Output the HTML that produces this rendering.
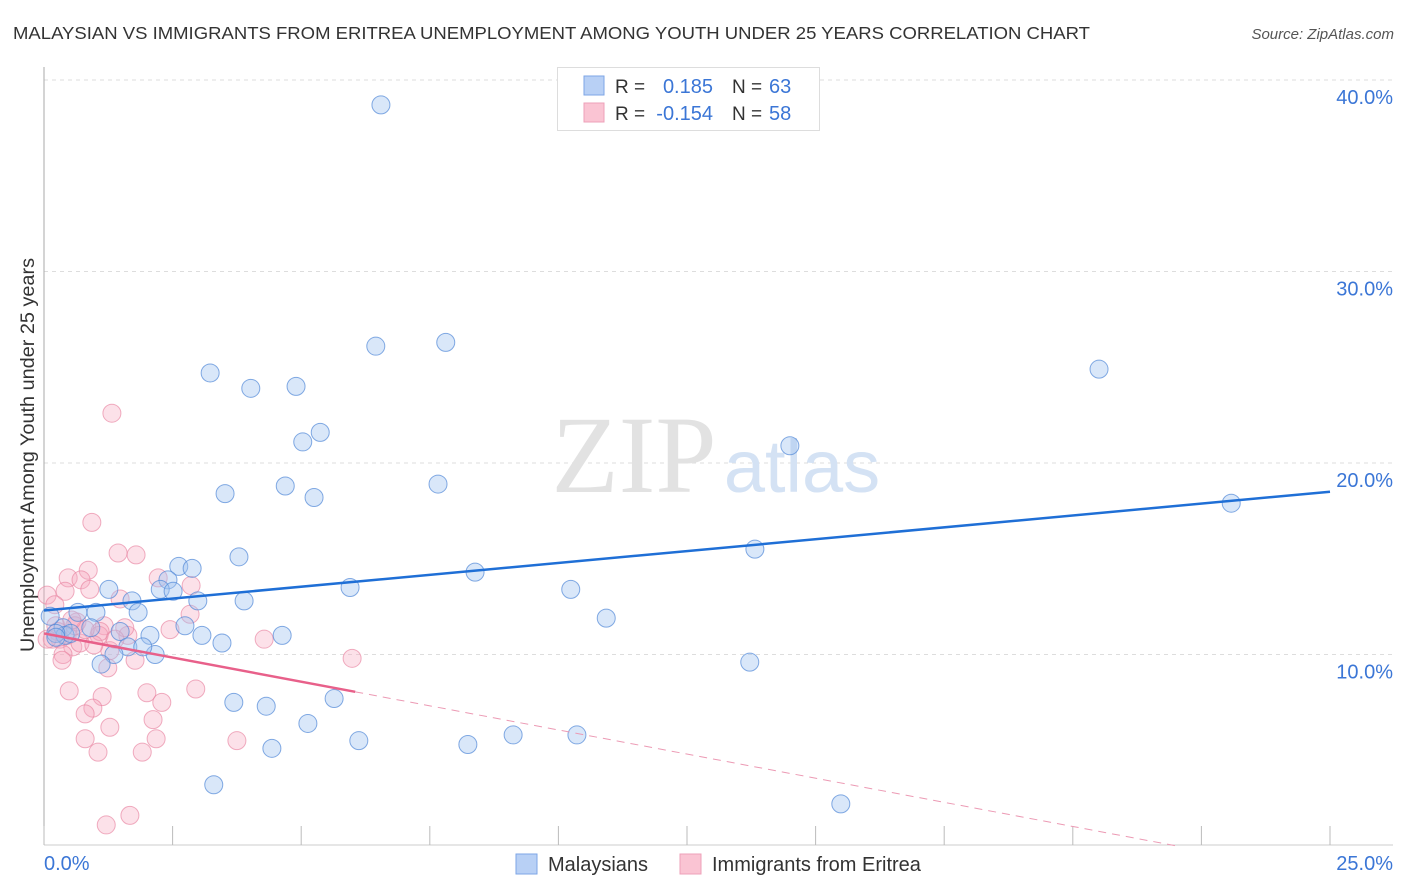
<!DOCTYPE html>
<html><head><meta charset="utf-8"><style>
body{margin:0;background:#fff;font-family:"Liberation Sans",sans-serif;}
svg{display:block}
</style></head><body>
<svg id="chart" width="1406" height="892" xmlns="http://www.w3.org/2000/svg">
<text x="13" y="39" font-size="17.5" fill="#333" textLength="1077" lengthAdjust="spacingAndGlyphs">MALAYSIAN VS IMMIGRANTS FROM ERITREA UNEMPLOYMENT AMONG YOUTH UNDER 25 YEARS CORRELATION CHART</text>
<text x="1394" y="39" font-size="15" fill="#555" font-style="italic" text-anchor="end">Source: ZipAtlas.com</text>
<g id="grid"></g>
<g>
<text x="634" y="492" font-size="110" font-family="Liberation Serif,serif" fill="#e2e2e2" text-anchor="middle">ZIP</text>
<text x="802" y="492" font-size="74" fill="#d4e2f4" text-anchor="middle">atlas</text>
</g>
<line x1="44" y1="67" x2="44" y2="845" stroke="#aaa"/>
<line x1="44" y1="845" x2="1393" y2="845" stroke="#ccc"/>
<g id="ticks"></g>
<g id="pinkpts"></g>
<g id="bluepts"></g>
<g id="lines"></g>
<text transform="translate(34,455) rotate(-90)" font-size="19" fill="#333" text-anchor="middle" textLength="394" lengthAdjust="spacingAndGlyphs">Unemployment Among Youth under 25 years</text>
<text x="44" y="870" font-size="20" fill="#3b76d6">0.0%</text>
<text x="1393" y="870" font-size="20" fill="#3b76d6" text-anchor="end">25.0%</text>
<g>
<rect x="557.5" y="67.5" width="262" height="63" fill="#fff" stroke="#ddd"/>
<rect x="584" y="76" width="20" height="19" fill="#b8d0f5" stroke="#7ea6e6"/>
<rect x="584" y="103" width="20" height="19" fill="#fac4d3" stroke="#eea0b8"/>
<text x="615" y="93" font-size="19" fill="#333">R =</text>
<text x="713" y="93" font-size="20" fill="#3b76d6" text-anchor="end">0.185</text>
<text x="732" y="93" font-size="19" fill="#333">N =</text>
<text x="769" y="93" font-size="20" fill="#3b76d6">63</text>
<text x="615" y="120" font-size="19" fill="#333">R =</text>
<text x="713" y="120" font-size="20" fill="#3b76d6" text-anchor="end">-0.154</text>
<text x="732" y="120" font-size="19" fill="#333">N =</text>
<text x="769" y="120" font-size="20" fill="#3b76d6">58</text>
</g>
<g>
<rect x="516" y="854" width="21" height="20" fill="#b8d0f5" stroke="#7ea6e6"/>
<text x="548" y="871" font-size="20" fill="#333">Malaysians</text>
<rect x="680" y="854" width="21" height="20" fill="#fac4d3" stroke="#eea0b8"/>
<text x="712" y="871" font-size="20" fill="#333">Immigrants from Eritrea</text>
</g>
</svg>
<script>
const yTicks=[10,20,30,40];
const yTickLabels=["10.0%","20.0%","30.0%","40.0%"];
const xTicks=[0,2.5,5,7.5,10,12.5,15,17.5,20,22.5,25];
const blueX=[6.55,7.81,6.45,20.51,3.23,4.02,4.90,5.37,5.03,14.50,3.52,4.69,5.25,7.66,23.08,13.82,3.79,2.62,2.88,2.41,1.26,2.26,2.51,5.95,8.38,10.24,1.71,2.99,3.89,1.83,1.01,0.66,10.93,2.74,0.37,0.91,1.48,2.06,3.07,4.63,0.41,0.52,0.23,3.46,1.63,2.16,1.92,1.36,1.11,13.72,3.69,4.32,5.64,5.13,4.43,6.12,8.24,9.12,10.36,3.30,15.49,0.12,0.23];
const blueY=[38.7,26.3,26.1,24.9,24.7,23.9,24.0,21.6,21.1,20.9,18.4,18.8,18.2,18.9,17.9,15.5,15.1,14.6,14.5,13.9,13.4,13.4,13.3,13.5,14.3,13.4,12.8,12.8,12.8,12.2,12.2,12.2,11.9,11.5,11.4,11.4,11.2,11.0,11.0,11.0,11.0,11.1,11.1,10.6,10.4,10.0,10.4,10.0,9.5,9.6,7.5,7.3,7.7,6.4,5.1,5.5,5.3,5.8,5.8,3.2,2.2,12.0,10.9];
const pinkX=[1.32,0.93,1.44,1.79,0.47,0.86,0.72,2.22,2.86,0.41,0.89,1.48,0.06,2.84,2.45,1.17,0.64,1.63,1.07,0.45,0.23,0.31,0.56,0.37,1.28,1.77,4.28,5.99,1.24,0.49,1.13,2.00,2.29,0.95,0.80,2.95,2.12,1.28,3.75,0.80,2.18,1.05,1.91,1.21,1.67,0.21,0.16,0.60,0.70,0.35,1.09,0.80,1.57,0.97,0.27,0.54,1.38,0.06];
const pinkY=[22.6,16.9,15.3,15.2,14.0,14.4,13.9,14.0,13.6,13.3,13.4,12.9,13.1,12.1,11.3,11.5,11.7,11.0,11.0,11.0,11.5,10.8,10.4,10.0,10.2,9.7,10.8,9.8,9.3,8.1,7.8,8.0,7.5,7.2,6.9,8.2,6.6,6.2,5.5,5.6,5.6,4.9,4.9,1.1,1.6,12.6,10.8,11.5,10.6,9.7,11.2,11.3,11.4,10.5,11.2,11.8,10.8,10.8];
const blueTrend=[12.3,18.5];
const pinkTrend=[11.1,-1.5];
const pinkSolidEnd=6.05;
const NS="http://www.w3.org/2000/svg";
const X=v=>44+v*51.44, Y=v=>846-v*19.15;
function mk(tag,attrs,parent){const e=document.createElementNS(NS,tag);for(const k in attrs)e.setAttribute(k,attrs[k]);parent.appendChild(e);return e;}
const grid=document.getElementById('grid');
yTicks.forEach((t,i)=>{
 const l=mk('line',{x1:44,x2:1393,y1:Y(t),y2:Y(t),stroke:'#ddd','stroke-dasharray':'4,4'},grid);
 
 
 const tx=mk('text',{x:1393,y:Y(t)+24,'font-size':20,fill:'#3b76d6','text-anchor':'end'},grid);
 tx.textContent=yTickLabels[i];
 
 
});
const tk=document.getElementById('ticks');
xTicks.forEach(t=>{
 const l=mk('line',{x1:X(t),x2:X(t),y1:826,y2:845,stroke:'#bbb'},tk);
 
 
});
const pg=document.getElementById('pinkpts');
pinkX.forEach((x,i)=>{
 const c=mk('circle',{cx:X(x),cy:Y(pinkY[i]),r:9,fill:'rgba(246,170,192,0.35)',stroke:'rgba(232,130,160,0.65)','stroke-width':1},pg);
 
 
});
const bg=document.getElementById('bluepts');
blueX.forEach((x,i)=>{
 const c=mk('circle',{cx:X(x),cy:Y(blueY[i]),r:9,fill:'rgba(160,195,240,0.4)',stroke:'rgba(80,135,215,0.7)','stroke-width':1},bg);
 
 
});
const lg=document.getElementById('lines');
const bl=mk('line',{x1:X(0),y1:Y(blueTrend[0]),x2:X(25),y2:Y(blueTrend[1]),stroke:'#1f6fd6','stroke-width':2.5},lg);


const py=x=>pinkTrend[0]+(pinkTrend[1]-pinkTrend[0])*x/25;
const xz=pinkTrend[0]/(pinkTrend[0]-pinkTrend[1])*25;
const pd=mk('line',{x1:X(pinkSolidEnd),y1:Y(py(pinkSolidEnd)),x2:X(xz),y2:Y(0),stroke:'#ec9ab4','stroke-width':1,'stroke-dasharray':'8,6'},lg);


const ps=mk('line',{x1:X(0),y1:Y(pinkTrend[0]),x2:X(pinkSolidEnd),y2:Y(py(pinkSolidEnd)),stroke:'#e8608a','stroke-width':2.5},lg);


</script>
</body></html>
